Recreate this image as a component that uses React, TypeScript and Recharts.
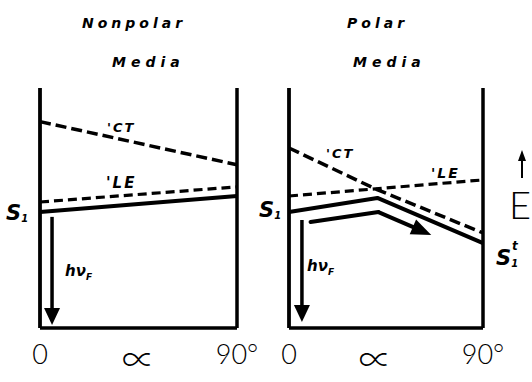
import { Line, LineChart, ReferenceLine, XAxis, YAxis } from "recharts";

// twist angle (deg) vs. state energy, arbitrary units (0 = ground)
const npAlpha = [0, 90];
const npCT = [86, 68];
const npLE = [52.5, 58.8];
const npS1 = [48.3, 55];

const pCTAlpha = [0, 40, 90];
const pCT = [75, 58, 39.6];
const pLEAlpha = [0, 90];
const pLE = [55, 61.7];
const pS1Alpha = [0, 41, 90];
const pS1 = [48.3, 54.2, 35.4];

// relaxation path along S1 in polar media
const pPathAlpha = [10, 41.5, 66];
const pPathE = [44.2, 48.3, 38.8];

// fluorescence emission arrows (angle, from, to)
const npEmitAlpha = 5.5;
const npEmitE = [46.3, 1.3];
const pEmitAlpha = 6;
const pEmitE = [45, 2.5];

const npTicks = [0, 45, 90];
const pTicks = [0, 40, 90];
const tickText: Record<number, string> = { 0: "0", 90: "90°" };

const W = 532;
const H = 382;

const rows = (xs: number[], ys: number[]) => xs.map((a, i) => ({ a, e: ys[i] }));

const hand = {
  fontFamily: "'DejaVu Sans', sans-serif",
  fontWeight: 700,
  fontStyle: "italic" as const,
  fill: "#000",
};
const thin = {
  fontFamily: "Lato, 'DejaVu Sans', sans-serif",
  fontWeight: 300,
  fill: "#000",
};

const arrow =
  (len: number, half: number, width: number) =>
  (props: any) => {
    const { x1, y1, x2, y2 } = props;
    const ang = Math.atan2(y2 - y1, x2 - x1);
    const c = Math.cos(ang);
    const s = Math.sin(ang);
    const bx = x2 - len * c;
    const by = y2 - len * s;
    return (
      <g>
        <line x1={x1} y1={y1} x2={bx + c} y2={by + s} stroke="#000" strokeWidth={width} />
        <polygon
          points={`${x2},${y2} ${bx - half * s},${by + half * c} ${bx + half * s},${by - half * c}`}
          fill="#000"
        />
      </g>
    );
  };

const plainSeg = (props: any) => (
  <line
    x1={props.x1}
    y1={props.y1}
    x2={props.x2}
    y2={props.y2}
    stroke="#000"
    strokeWidth={4}
    strokeLinecap="round"
  />
);

function AngleTick({ x, y, payload }: any) {
  const v = payload.value as number;
  const label = tickText[v] ?? "∝";
  if (label === "∝") {
    return (
      <text
        x={x}
        y={y + 44}
        textAnchor="middle"
        fontSize={33}
        fontFamily="'Noto Sans CJK JP', 'DejaVu Sans', sans-serif"
        fontWeight={300}
        fill="#000"
      >
        ∝
      </text>
    );
  }
  return (
    <text x={x} y={y + 36} textAnchor="middle" fontSize={27} {...thin}>
      {label}
    </text>
  );
}

function Panel({
  left,
  right,
  ticks,
  children,
}: {
  left: number;
  right: number;
  ticks: number[];
  children: React.ReactNode;
}) {
  return (
    <div style={{ position: "absolute", left: 0, top: 0 }}>
      <LineChart
        width={W}
        height={H}
        margin={{ top: 88, bottom: 0, left, right: W - right }}
      >
        <XAxis
          type="number"
          dataKey="a"
          domain={[0, 90]}
          ticks={ticks}
          interval={0}
          height={54}
          tickLine={false}
          tickSize={0}
          tickMargin={0}
          axisLine={{ stroke: "#000", strokeWidth: 3.5 }}
          tick={<AngleTick />}
        />
        <YAxis domain={[0, 100]} hide />
        {/* side walls of the frame */}
        <ReferenceLine x={0} stroke="#000" strokeWidth={3.8} />
        <ReferenceLine x={90} stroke="#000" strokeWidth={3.5} />
        {children}
      </LineChart>
    </div>
  );
}

export default function App() {
  return (
    <div style={{ position: "absolute", left: 0, top: 0, width: W, height: H, background: "#fff" }}>
      <Panel left={40} right={237} ticks={npTicks}>
        <Line
          data={rows(npAlpha, npCT)}
          dataKey="e"
          stroke="#000"
          strokeWidth={3.5}
          strokeDasharray="11 5"
          dot={false}
          isAnimationActive={false}
        />
        <Line
          data={rows(npAlpha, npLE)}
          dataKey="e"
          stroke="#000"
          strokeWidth={3.2}
          strokeDasharray="9 5"
          dot={false}
          isAnimationActive={false}
        />
        <Line
          data={rows(npAlpha, npS1)}
          dataKey="e"
          stroke="#000"
          strokeWidth={4}
          dot={false}
          isAnimationActive={false}
        />
        <ReferenceLine
          segment={[
            { x: npEmitAlpha, y: npEmitE[0] },
            { x: npEmitAlpha, y: npEmitE[1] },
          ]}
          shape={arrow(17, 8, 3.5)}
        />
        <text x={82} y={28} fontSize={14} letterSpacing={4} {...hand}>
          Nonpolar
        </text>
        <text x={112} y={67} fontSize={14} letterSpacing={5} {...hand}>
          Media
        </text>
        <text x={107} y={132} fontSize={13} letterSpacing={2} {...hand}>
          'CT
        </text>
        <text x={106} y={188} fontSize={15} letterSpacing={2} {...hand}>
          'LE
        </text>
        <text x={6} y={220} fontSize={21} {...hand}>
          S<tspan fontSize={10} dy={2}>1</tspan>
        </text>
        <text x={65} y={276} fontSize={15} {...hand}>
          hν<tspan fontSize={9} dy={4}>F</tspan>
        </text>
      </Panel>

      <Panel left={289} right={483} ticks={pTicks}>
        <Line
          data={rows(pCTAlpha, pCT)}
          dataKey="e"
          stroke="#000"
          strokeWidth={3.5}
          strokeDasharray="11 5"
          dot={false}
          isAnimationActive={false}
        />
        <Line
          data={rows(pLEAlpha, pLE)}
          dataKey="e"
          stroke="#000"
          strokeWidth={3.2}
          strokeDasharray="9 5"
          dot={false}
          isAnimationActive={false}
        />
        <Line
          data={rows(pS1Alpha, pS1)}
          dataKey="e"
          stroke="#000"
          strokeWidth={4}
          strokeLinejoin="round"
          dot={false}
          isAnimationActive={false}
        />
        <ReferenceLine
          segment={[
            { x: pPathAlpha[0], y: pPathE[0] },
            { x: pPathAlpha[1], y: pPathE[1] },
          ]}
          shape={plainSeg}
        />
        <ReferenceLine
          segment={[
            { x: pPathAlpha[1], y: pPathE[1] },
            { x: pPathAlpha[2], y: pPathE[2] },
          ]}
          shape={arrow(20, 8, 4)}
        />
        <ReferenceLine
          segment={[
            { x: pEmitAlpha, y: pEmitE[0] },
            { x: pEmitAlpha, y: pEmitE[1] },
          ]}
          shape={arrow(17, 8, 3.5)}
        />
        <text x={347} y={28} fontSize={14} letterSpacing={4} {...hand}>
          Polar
        </text>
        <text x={353} y={67} fontSize={14} letterSpacing={5} {...hand}>
          Media
        </text>
        <text x={326} y={158} fontSize={13} letterSpacing={2} {...hand}>
          'CT
        </text>
        <text x={431} y={178} fontSize={14} letterSpacing={2} {...hand}>
          'LE
        </text>
        <text x={259} y={217} fontSize={21} {...hand}>
          S<tspan fontSize={10} dy={2}>1</tspan>
        </text>
        <text x={496} y={265} fontSize={21} {...hand}>
          S<tspan fontSize={10} dy={2}>1</tspan>
          <tspan fontSize={12} dx={-6} dy={-17}>
            t
          </tspan>
        </text>
        <text x={307} y={271} fontSize={15} {...hand}>
          hν<tspan fontSize={9} dy={4}>F</tspan>
        </text>
        {/* energy direction marker */}
        <line x1={522} y1={160} x2={522} y2={178} stroke="#000" strokeWidth={2} />
        <polygon points="522,150 518,161 526,161" fill="#000" />
        <text x={509} y={219} fontSize={38} {...thin}>
          E
        </text>
      </Panel>
    </div>
  );
}
